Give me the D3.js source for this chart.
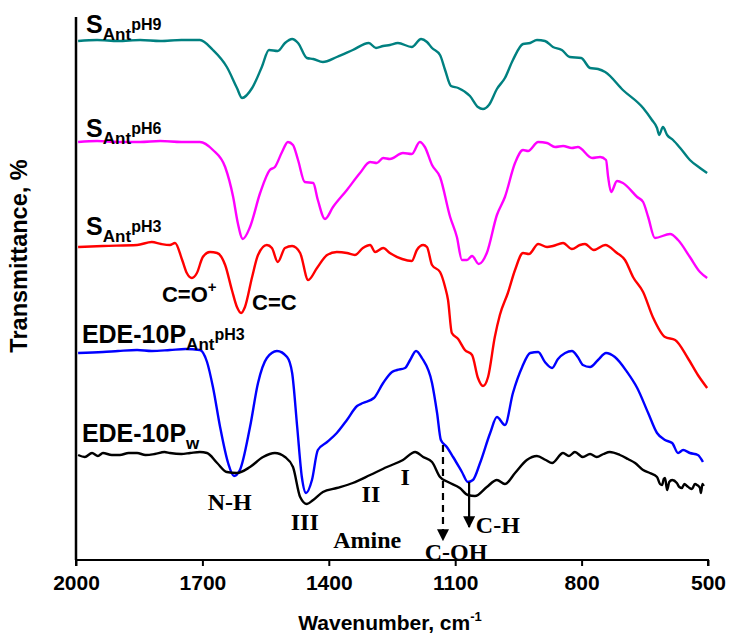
<!DOCTYPE html>
<html><head><meta charset="utf-8">
<script src="https://cdn.jsdelivr.net/npm/d3@7"></script>
<style>
html,body{margin:0;padding:0;background:#fff;}
svg{display:block;}
</style></head>
<body>
<svg id="chart" width="731" height="634"></svg>
<script>
// ---------- DATA (wavenumber cm-1, transmittance offset a.u.) ----------
const xTicks = [2000, 1700, 1400, 1100, 800, 500];

const sAntPH9 = [[1995,519],[1950,520],[1900,519],[1848,520],[1800,519],[1750,520],[1706,520],[1675,510],[1642,493],[1618,472],[1606,462],[1582,472],[1559,493],[1542,510],[1521,509],[1504,517],[1487,521],[1473,517],[1452,502],[1437,501],[1414,498],[1381,503],[1343,510],[1305,517],[1288,512],[1271,514],[1255,515],[1236,517],[1203,513],[1181,521],[1167,518],[1155,512],[1136,505],[1124,490],[1110,474],[1093,472],[1065,464],[1046,453],[1034,451],[1020,455],[1001,471],[982,482],[963,500],[939,516],[922,517],[906,520],[887,519],[868,513],[847,510],[828,503],[801,502],[780,492],[761,491],[744,488],[702,470],[654,452],[633,440],[621,432],[616,425],[607,433],[597,425],[583,420],[566,412],[543,400],[519,392],[502,387]];

const sAntPH6 = [[1995,418],[1950,419],[1900,418],[1848,418],[1800,419],[1750,418],[1706,418],[1675,410],[1646,393],[1627,363],[1616,337],[1604,321],[1587,333],[1563,367],[1540,390],[1528,393],[1511,408],[1497,418],[1485,415],[1473,400],[1457,378],[1437,377],[1426,360],[1409,341],[1390,353],[1357,370],[1326,387],[1302,398],[1286,397],[1271,402],[1255,401],[1224,407],[1203,406],[1184,418],[1172,413],[1155,395],[1136,383],[1112,343],[1096,323],[1084,300],[1072,300],[1060,304],[1044,296],[1025,307],[1001,345],[982,363],[958,397],[939,410],[927,409],[903,418],[882,417],[863,413],[844,414],[823,412],[809,413],[775,402],[756,403],[742,400],[737,383],[730,368],[716,379],[702,377],[668,363],[654,358],[642,343],[626,322],[590,326],[571,320],[543,303],[519,288],[502,282]];

const sAntPH3 = [[1995,313],[1936,314],[1855,315],[1820,318],[1798,316],[1777,315],[1765,317],[1748,300],[1737,287],[1725,282],[1713,287],[1699,303],[1682,308],[1665,307],[1646,295],[1630,270],[1618,253],[1608,247],[1599,253],[1582,283],[1568,305],[1547,315],[1535,312],[1521,298],[1504,312],[1487,314],[1468,307],[1449,280],[1428,292],[1404,305],[1381,308],[1357,307],[1338,305],[1319,312],[1302,315],[1290,308],[1271,312],[1255,307],[1226,301],[1203,299],[1191,310],[1176,315],[1167,313],[1155,295],[1136,288],[1124,273],[1117,260],[1108,227],[1093,221],[1077,210],[1060,205],[1046,182],[1034,174],[1022,183],[1006,223],[994,245],[975,267],[958,290],[939,307],[925,306],[903,316],[882,313],[868,314],[844,317],[823,311],[804,315],[792,316],[771,310],[744,315],[716,307],[697,300],[678,283],[654,268],[631,243],[602,223],[578,220],[548,202],[524,185],[502,172]];

const edePAnt = [[1995,207],[1936,208],[1900,209],[1855,210],[1820,209],[1777,210],[1740,211],[1706,210],[1689,198],[1675,173],[1658,133],[1639,97],[1625,84],[1611,90],[1587,133],[1568,177],[1547,202],[1523,209],[1499,203],[1487,187],[1475,133],[1464,83],[1454,67],[1440,80],[1426,110],[1404,118],[1381,127],[1357,140],[1333,154],[1319,157],[1293,162],[1271,177],[1250,188],[1238,190],[1219,192],[1207,200],[1193,209],[1179,202],[1155,177],[1143,147],[1134,120],[1120,113],[1105,103],[1084,88],[1070,78],[1058,80],[1041,97],[1017,127],[1001,143],[982,135],[963,167],[941,193],[922,207],[903,208],[887,198],[870,192],[856,201],[839,207],[823,209],[809,203],[797,195],[780,193],[761,200],[742,207],[721,203],[692,188],[668,172],[642,147],[621,127],[602,120],[585,117],[571,107],[559,110],[543,107],[524,105],[512,98]];

const edePW = [[1995,105],[1979,103],[1962,107],[1948,104],[1936,107],[1915,105],[1896,105],[1875,107],[1855,107],[1835,105],[1813,106],[1790,108],[1777,107],[1750,106],[1729,107],[1706,108],[1689,107],[1665,97],[1642,88],[1618,87],[1587,93],[1556,103],[1528,107],[1504,103],[1485,93],[1468,63],[1452,56],[1437,60],[1414,68],[1381,72],[1343,77],[1302,85],[1262,93],[1224,100],[1195,108],[1176,103],[1155,98],[1136,83],[1117,78],[1089,72],[1070,65],[1053,64],[1025,73],[1001,80],[982,76],[958,87],[930,100],[906,104],[885,100],[870,97],[844,107],[830,104],[816,108],[797,103],[780,106],[764,103],[748,106],[733,108],[709,105],[690,101],[673,97],[654,90],[638,87],[621,83],[614,76],[609,75],[605,81],[602,82],[597,70],[592,78],[585,80],[574,77],[568,73],[562,72],[556,76],[550,74],[544,72],[538,71],[531,76],[526,75],[519,72],[517,67],[513,76],[510,74]];

const seriesList = [
  {name: "SAntpH9", color: "#008080", data: sAntPH9},
  {name: "SAntpH6", color: "#ff00ff", data: sAntPH6},
  {name: "SAntpH3", color: "#ff0000", data: sAntPH3},
  {name: "EDE-10PAntpH3", color: "#0000ff", data: edePAnt},
  {name: "EDE-10Pw", color: "#000000", data: edePW}
];

// series labels: [main, subscript, superscript, wavenumber, value]
const seriesLabels = [
  ["S", "Ant", "pH9", 1976, 527],
  ["S", "Ant", "pH6", 1976, 423],
  ["S", "Ant", "pH3", 1976, 325],
  ["EDE-10P", "Ant", "pH3", 1986, 217],
  ["EDE-10P", "w", "", 1986, 118]
];

// band annotations (Times bold): [text, wavenumber, value, anchor]
const bandLabels = [
  ["N-H", 1635, 50, "middle"],
  ["III", 1457, 30, "middle"],
  ["II", 1300, 58, "middle"],
  ["I", 1219, 75, "middle"],
  ["Amine", 1309, 12, "middle"],
  ["C-H", 1051, 27, "start"],
  ["C-OH", 1098, 0, "middle"]
];

// Arial bold annotations on SAnt pH3
const peakLabels = [
  ["C=O", "+", 1796, 258],
  ["C=C", "", 1582, 250]
];

// arrows: [wavenumber, valueFrom, valueTo, dashed]
const arrows = [
  [1129, 115, 20, true],
  [1067, 78, 33, false]
];

// ---------- CHART ----------
const svg = d3.select("#chart");
const x = d3.scaleLinear().domain([2000, 500]).range([76, 708]);
const y = d3.scaleLinear().domain([0, 542]).range([560, 18]);

const sans = "'Liberation Sans', Arial, Helvetica, sans-serif";
const serif = "'Liberation Serif', 'Times New Roman', Times, serif";

// arrowhead marker
svg.append("defs").append("marker")
  .attr("id", "ah").attr("viewBox", "0 0 10 10")
  .attr("refX", 9).attr("refY", 5)
  .attr("markerWidth", 12).attr("markerHeight", 12)
  .attr("markerUnits", "userSpaceOnUse")
  .attr("orient", "auto")
  .append("path").attr("d", "M0,0 L10,5 L0,10 Z").attr("fill", "#000");

// lines
const line = d3.line()
  .x(d => x(d[0])).y(d => y(d[1]))
  .curve(d3.curveMonotoneX);

svg.append("g").selectAll("path").data(seriesList).join("path")
  .attr("d", d => line(d.data))
  .attr("fill", "none")
  .attr("stroke", d => d.color)
  .attr("stroke-width", 2.4)
  .attr("stroke-linejoin", "round");

// axes
const xAxis = d3.axisBottom(x).tickValues(xTicks).tickSize(6).tickFormat(d3.format("d"));
const gx = svg.append("g").attr("transform", `translate(0,${y(0)})`).call(xAxis);
gx.select(".domain").attr("stroke", "#000").attr("stroke-width", 2).attr("d", `M${x(2000)},6V0H${x(500)}V6`);
gx.selectAll(".tick line").attr("stroke", "#000").attr("stroke-width", 2);
gx.selectAll(".tick text")
  .attr("font-family", sans).attr("font-weight", "bold").attr("font-size", 21)
  .attr("fill", "#000").attr("dy", "1.0em");

const yAxis = d3.axisLeft(y).tickValues([]).tickSize(0);
const gy = svg.append("g").attr("transform", `translate(${x(2000)},0)`).call(yAxis);
gy.select(".domain").attr("stroke", "#000").attr("stroke-width", 2.5).attr("d", `M0,17V${y(0)}`);

// axis titles
const xt = svg.append("text")
  .attr("x", 390).attr("y", 630)
  .attr("text-anchor", "middle")
  .attr("font-family", sans).attr("font-weight", "bold").attr("font-size", 21);
xt.append("tspan").text("Wavenumber, cm");
xt.append("tspan").text("-1").attr("font-size", 13).attr("dy", -9);

svg.append("text")
  .attr("transform", `translate(27,256) rotate(-90)`)
  .attr("text-anchor", "middle")
  .attr("font-family", sans).attr("font-weight", "bold").attr("font-size", 23.5)
  .text("Transmittance, %");

// series labels
seriesLabels.forEach(([main, sub, sup, w, v], i) => {
  const big = main === "S" ? 25 : 25;
  const t = svg.append("text")
    .attr("x", x(w)).attr("y", y(v))
    .attr("font-family", sans).attr("font-weight", "bold").attr("font-size", big)
    .attr("fill", "#000");
  t.append("tspan").text(main);
  t.append("tspan").text(sub).attr("font-size", 17).attr("dy", 7);
  if (sup) t.append("tspan").text(sup).attr("font-size", 16).attr("dy", -10);
});

// peak labels
peakLabels.forEach(([main, sup, w, v]) => {
  const t = svg.append("text")
    .attr("x", x(w)).attr("y", y(v))
    .attr("font-family", sans).attr("font-weight", "bold").attr("font-size", 22)
    .attr("fill", "#000");
  t.append("tspan").text(main);
  if (sup) t.append("tspan").text(sup).attr("font-size", 15).attr("dy", -10);
});

// band labels
svg.append("g").selectAll("text").data(bandLabels).join("text")
  .attr("x", d => x(d[1])).attr("y", d => y(d[2]))
  .attr("text-anchor", d => d[3])
  .attr("font-family", serif).attr("font-weight", "bold").attr("font-size", 24)
  .attr("fill", "#000")
  .text(d => d[0]);

// arrows
svg.append("g").selectAll("line").data(arrows).join("line")
  .attr("x1", d => x(d[0])).attr("x2", d => x(d[0]))
  .attr("y1", d => y(d[1])).attr("y2", d => y(d[2]))
  .attr("stroke", "#000").attr("stroke-width", 2.2)
  .attr("stroke-dasharray", d => d[3] ? "7,5" : null)
  .attr("marker-end", "url(#ah)");
</script>
</body></html>
